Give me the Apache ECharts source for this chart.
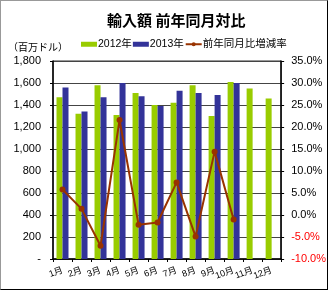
<!DOCTYPE html>
<html><head><meta charset="utf-8">
<script src="https://cdn.jsdelivr.net/npm/echarts@6/dist/echarts.min.js"></script>
<style>
html,body{margin:0;padding:0;background:#fff;}
#frame{position:absolute;left:0;top:0;width:326px;height:288px;border-top:1px solid #999;border-left:1px solid #999;border-right:1px solid #000;border-bottom:1px solid #000;}
#c{position:absolute;left:0;top:0;width:329px;height:291px;}
</style></head>
<body>
<div id="frame"></div>
<div id="c"></div>
<script>
const categories = ['1月','2月','3月','4月','5月','6月','7月','8月','9月','10月','11月','12月'];
const imports2012 = [1470,1320,1580,1310,1510,1400,1420,1580,1300,1610,1550,1460];
const imports2013 = [1560,1340,1470,1600,1480,1390,1530,1510,1490,1600,null,null];
const yoyRate = [5.8,1.4,-7.0,21.6,-2.2,-1.7,7.4,-4.9,14.4,-1.0,null,null];
const leftTicks = {min:0,max:1800,interval:200};
const rightTicks = {min:-10,max:35,interval:5};

const FONT = "'Liberation Sans','Noto Sans CJK JP',sans-serif";
const chart = echarts.init(document.getElementById('c'), null, {renderer:'canvas'});
chart.setOption({
  animation:false,
  backgroundColor:'transparent',
  title:{text:'輸入額 前年同月対比',left:102,top:8,textStyle:{fontSize:15,fontWeight:'bold',color:'#000',fontFamily:"'Noto Sans CJK JP',sans-serif"}},
  legend:{left:76,top:34,itemGap:1,itemWidth:16,itemHeight:5,
    textStyle:{fontSize:10.5,color:'#000',fontFamily:FONT,padding:[0,0,0,-4]},
    data:[{name:'2012年',icon:'rect'},{name:'2013年',icon:'rect'},{name:'前年同月比増減率'}]},
  graphic:[{type:'text',left:8,top:42,style:{text:'（百万ドル）',fontSize:10,fill:'#000',fontFamily:"'Noto Sans CJK JP',sans-serif"}}],
  grid:{left:53,right:44,top:61,bottom:32,show:true,borderColor:'#333',borderWidth:1},
  xAxis:{type:'category',data:categories,boundaryGap:true,
    axisLine:{lineStyle:{color:'#000',width:1.5}},
    axisTick:{show:true,interval:0,alignWithLabel:false,length:3,lineStyle:{color:'#000'}},
    axisLabel:{rotate:20,fontSize:9,color:'#000',margin:11,interval:0,fontFamily:FONT}},
  yAxis:[
    {type:'value',min:leftTicks.min,max:leftTicks.max,interval:leftTicks.interval,
     axisLine:{show:true,lineStyle:{color:'#000',width:1.5}},
     axisTick:{show:true,length:3,lineStyle:{color:'#000'}},
     splitLine:{show:true,lineStyle:{color:'#444',width:1}},
     axisLabel:{fontSize:11,color:'#000',margin:12,fontFamily:FONT,
       formatter:v=>v===0?'-':v.toLocaleString('en-US')}},
    {type:'value',min:rightTicks.min,max:rightTicks.max,interval:rightTicks.interval,
     axisLine:{show:true,lineStyle:{color:'#000',width:1.5}},
     axisTick:{show:true,length:3,lineStyle:{color:'#000'}},
     splitLine:{show:false},
     axisLabel:{fontSize:11,margin:10,fontFamily:FONT,
       formatter:v=>v.toFixed(1)+'%',
       color:v=>v<0?'#ff0000':'#000'}}
  ],
  series:[
    {name:'2012年',type:'bar',data:imports2012,barWidth:6,barGap:'0%',itemStyle:{color:'#99cc00'}},
    {name:'2013年',type:'bar',data:imports2013,barWidth:6,barGap:'0%',itemStyle:{color:'#333399'}},
    {name:'前年同月比増減率',type:'line',yAxisIndex:1,data:yoyRate,symbol:'circle',symbolSize:6,
     lineStyle:{color:'#993300',width:2},itemStyle:{color:'#993300'}}
  ]
});
</script>
</body></html>
